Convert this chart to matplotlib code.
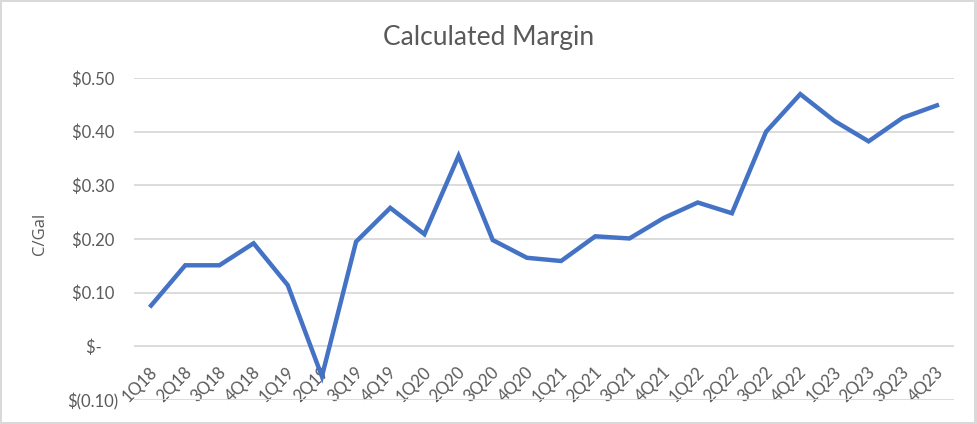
import matplotlib.pyplot as plt
from matplotlib.patches import Rectangle
from matplotlib.transforms import ScaledTranslation

quarters = ["1Q18", "2Q18", "3Q18", "4Q18", "1Q19", "2Q19", "3Q19", "4Q19",
            "1Q20", "2Q20", "3Q20", "4Q20", "1Q21", "2Q21", "3Q21", "4Q21",
            "1Q22", "2Q22", "3Q22", "4Q22", "1Q23", "2Q23", "3Q23", "4Q23"]
margin = [0.076, 0.151, 0.151, 0.192, 0.114, -0.056, 0.195, 0.258,
          0.209, 0.355, 0.198, 0.165, 0.159, 0.205, 0.201, 0.239,
          0.268, 0.248, 0.400, 0.470, 0.420, 0.382, 0.426, 0.449]
y_ticks = [-0.10, 0.0, 0.10, 0.20, 0.30, 0.40, 0.50]
y_labels = ["$(0.10)", "$-    ", "$0.10 ", "$0.20 ", "$0.30 ", "$0.40 ", "$0.50 "]

plt.rcParams['font.family'] = ['Lato', 'DejaVu Sans']
txt = '#595959'

fig = plt.figure(figsize=(9.77, 4.24), dpi=100, facecolor='#D9D9D9')
# white chart area inside the grey frame (thicker on right / bottom)
fig.patches.append(Rectangle((1.5/977, 2/424), (974 - 1.5)/977, (422.5 - 2)/424,
                             transform=fig.transFigure, facecolor='white',
                             edgecolor='none', zorder=-10))

ax = fig.add_axes([134/977, 1 - 400/424, (954 - 134)/977, (400 - 78)/424])
ax.set_facecolor('none')

x = list(range(len(quarters)))
ax.plot(x, margin, color='#4472C4', linewidth=3.2, solid_joinstyle='miter')

ax.set_xlim(-0.5, len(quarters) - 0.5)
ax.set_ylim(-0.10, 0.50)
ax.set_yticks(y_ticks)
ax.set_yticklabels(y_labels)
ax.yaxis.grid(True, color='#D9D9D9', linewidth=1.3)
ax.set_axisbelow(True)
for s in ax.spines.values():
    s.set_visible(False)
ax.spines['bottom'].set_position(('data', 0))   # labels sit under the zero line
ax.tick_params(axis='y', length=0, pad=11, labelsize=12, labelcolor=txt)
ax.tick_params(axis='x', length=0, pad=17, labelsize=12, labelcolor=txt)
ax.set_xticks(x)
ax.set_xticklabels(quarters, rotation=45, ha='right', va='center',
                   rotation_mode='anchor')
shift = ScaledTranslation(4/100, 0, fig.dpi_scale_trans)
for lab in ax.get_xticklabels():
    lab.set_transform(lab.get_transform() + shift)

fig.text(40/977, 1 - 234/424, "C/Gal", rotation=90, ha='center', va='center',
         fontsize=12, color=txt, family='Open Sans')
fig.text(0.5, 1 - 37/424, "Calculated Margin", ha='center', va='center',
         fontsize=19, color=txt)

fig.savefig("out.png", dpi=100, facecolor=fig.get_facecolor())
